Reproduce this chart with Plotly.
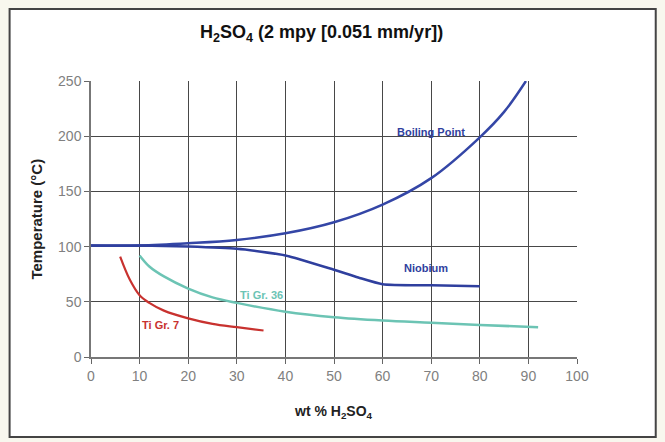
import plotly.graph_objects as go

# Data (wt % H2SO4 vs temperature °C)
bp_x = [0, 10, 20, 30, 40, 50, 60, 70, 80, 85, 89.5]
bp_y = [101, 101, 103, 106, 112, 122, 138, 162, 199, 222, 250]

nb_x = [0, 10, 20, 30, 40, 50, 55, 60, 70, 80]
nb_y = [101, 101, 100, 98, 92, 79, 72, 66, 65, 64]

ti36_x = [10, 12, 15, 20, 25, 30, 40, 50, 60, 70, 80, 92]
ti36_y = [92, 82, 73, 62, 54, 49, 41, 36, 33, 31, 29, 27]

ti7_x = [6, 8, 10, 12, 15, 20, 25, 30, 35.5]
ti7_y = [91, 70, 56, 49, 42, 35, 30, 27, 24]

x_ticks = [0, 10, 20, 30, 40, 50, 60, 70, 80, 90, 100]
y_ticks = [0, 50, 100, 150, 200, 250]

BLUE = "#2f3f9e"
BLUE2 = "#3446a6"
TEAL = "#6cc4b4"
RED = "#c8322f"

fig = go.Figure()
fig.add_trace(go.Scatter(x=bp_x, y=bp_y, mode="lines", line=dict(color=BLUE2, width=2.5, shape="spline"), showlegend=False))
fig.add_trace(go.Scatter(x=nb_x, y=nb_y, mode="lines", line=dict(color=BLUE, width=2.5, shape="spline", smoothing=0.6), showlegend=False))
fig.add_trace(go.Scatter(x=ti36_x, y=ti36_y, mode="lines", line=dict(color=TEAL, width=2.5, shape="spline"), showlegend=False))
fig.add_trace(go.Scatter(x=ti7_x, y=ti7_y, mode="lines", line=dict(color=RED, width=2.2, shape="spline"), showlegend=False))

lab_font = dict(family="Liberation Sans Narrow, Arial Narrow, Liberation Sans, Arial", size=11)
labels = [
    ("Boiling Point", 70, 204, BLUE),
    ("Niobium", 69, 81, BLUE),
    ("Ti Gr. 36", 35, 56, TEAL),
    ("Ti Gr. 7", 14.3, 29, RED),
]
for t, lx, ly, c in labels:
    fig.add_annotation(x=lx, y=ly, text="<b>" + t + "</b>", showarrow=False,
                       font=dict(lab_font, color=c))

# titles
fig.add_annotation(xref="paper", yref="paper", x=0.474, y=1.172, xanchor="center", yanchor="middle",
                   text="<b>H<sub>2</sub>SO<sub>4</sub> (2 mpy [0.051 mm/yr])</b>", showarrow=False,
                   font=dict(family="Liberation Sans, Arial", size=18, color="#111"))
fig.add_annotation(xref="paper", yref="paper", x=0.499, y=-0.2, xanchor="center", yanchor="middle",
                   text="<b>wt % H<sub>2</sub>SO<sub>4</sub></b>", showarrow=False,
                   font=dict(family="Liberation Sans, Arial", size=14, color="#222"))
fig.add_annotation(xref="paper", yref="paper", x=-0.114, y=0.5, xanchor="center", yanchor="middle",
                   text="<b>Temperature (°C)</b>", showarrow=False, textangle=-90,
                   font=dict(family="Liberation Sans, Arial", size=15, color="#222"))

# outer frame
fig.add_shape(type="rect", xref="paper", yref="paper",
              x0=-0.1675, x1=1.162, y0=-0.29, y1=1.261,
              line=dict(color="#444", width=2), fillcolor="white", layer="below")

fig.update_layout(
    width=665, height=442,
    margin=dict(l=90.5, r=88, t=81, b=85),
    paper_bgcolor="#f8f7ee",
    plot_bgcolor="white",
    font=dict(family="Liberation Sans, Arial"),
)
fig.update_xaxes(range=[0, 100], tickvals=x_ticks, showgrid=True, gridcolor="#484848", gridwidth=1.3,
                 showline=True, linecolor="#777", linewidth=1.5, ticks="outside", ticklen=5,
                 tickcolor="#666", tickfont=dict(size=14, color="#808080"), zeroline=False)
fig.update_yaxes(range=[0, 250], tickvals=y_ticks, showgrid=True, gridcolor="#484848", gridwidth=1.3,
                 showline=True, linecolor="#777", linewidth=1.5, ticks="outside", ticklen=5,
                 tickcolor="#666", tickfont=dict(size=14, color="#808080"), zeroline=False)
fig.write_html("out.html")
